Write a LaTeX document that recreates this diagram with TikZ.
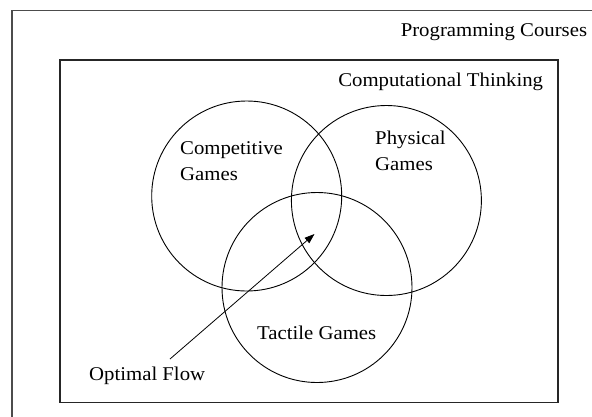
\documentclass[tikz,border=0pt]{standalone}
\usepackage{fontspec}
\setmainfont{Liberation Serif}[FakeStretch=1.065]
\usetikzlibrary{arrows.meta}
\tikzset{
  frameline/.style={draw=black!70, line width=1.3pt},
  innerframe/.style={draw=black!85, line width=1.1pt, inner sep=0pt},
  venn/.style={circle, draw=black, line width=0.9pt, minimum size=190pt, inner sep=0pt},
  lbl/.style={inner sep=0pt, font=\fontsize{19.5}{26}\selectfont, text=black},
  pointer/.style={-{Triangle[length=10pt,width=7pt]}, line width=0.8pt}
}
\begin{document}
\begin{tikzpicture}[x=1pt,y=-1pt]
\clip (0,0) rectangle (592,416);
\fill[white] (0,0) rectangle (592,416);
% outer frame (Programming Courses), extends beyond the image
\coordinate (ob) at (12,430);
\coordinate (otl) at (12,10.5);
\coordinate (otr) at (610,10.5);
\draw[frameline] (ob) -- (otl) -- (otr);
\node[lbl, anchor=base east] (pc) at (587.3,36.3) {Programming Courses};
% inner frame (Computational Thinking)
\node[innerframe, minimum width=498pt, minimum height=342.7pt] (ct) at (309,231.35) {};
\node[lbl, anchor=base east] (ctl) at (543.3,86.7) {Computational Thinking};
% circles
\node[venn] (cg) at (246.7,196) {};
\node[venn] (pg) at (386.4,200.5) {};
\node[venn] (tg) at (317,287.5) {};
% labels
\node[lbl, anchor=base west, align=left] (cgl) at (180,180) {Competitive\\Games};
\node[lbl, anchor=base west, align=left] (pgl) at (375,170.5) {Physical\\Games};
\node[lbl, anchor=base west] (tgl) at (257,339) {Tactile Games};
\node[lbl, anchor=base west] (of) at (89,380.5) {Optimal Flow};
% arrow
\coordinate (tail) at (170,359);
\coordinate (tip) at (314.5,234);
\draw[pointer] (tail) -- (tip);
\end{tikzpicture}
\end{document}
